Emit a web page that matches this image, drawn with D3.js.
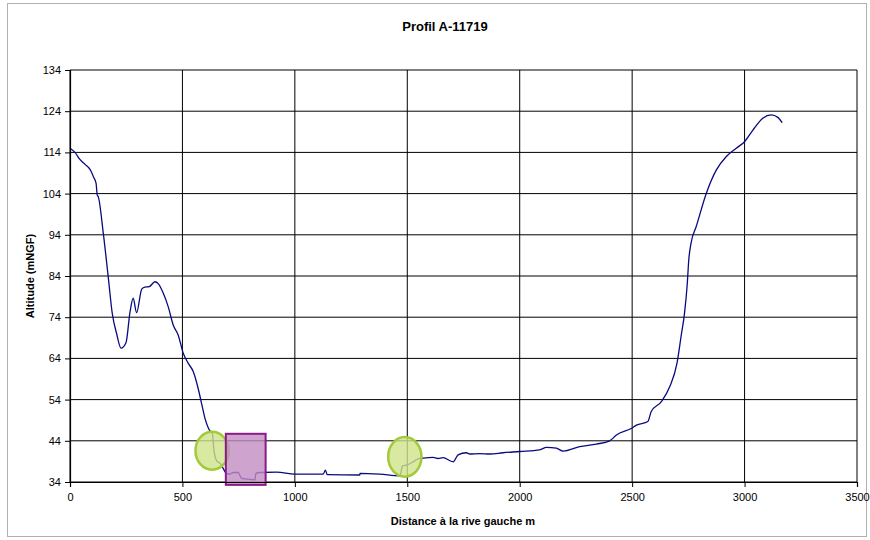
<!DOCTYPE html>
<html>
<head>
<meta charset="utf-8">
<script src="https://cdn.jsdelivr.net/npm/d3@7"></script>
<style>
  body { margin: 0; background: #fff; }
  svg text { font-family: "Liberation Sans", Arial, sans-serif; fill: #000; }
</style>
</head>
<body>
<div id="chart"></div>
<script>
var WIDTH = 870
var HEIGHT = 540

// profile: distance from left bank (m) / altitude (mNGF)
var distance = [0, 22, 44, 67, 92, 104, 116, 121, 126, 148, 170, 188, 207, 227, 249, 267, 281, 296,
    319, 333, 352, 378, 393, 415, 437, 459, 481, 504, 526, 548, 570, 585, 600, 625, 633, 640, 652,
    670, 681, 696, 711, 726, 748, 763, 785, 822, 827, 844, 919, 1000, 1126, 1136, 1144, 1289, 1290,
    1378, 1467, 1474, 1479, 1496, 1526, 1548, 1570, 1615, 1637, 1659, 1704, 1726, 1763, 1778, 1822,
    1867, 1926, 2000, 2089, 2119, 2163, 2193, 2267, 2341, 2400, 2430, 2496, 2519, 2570, 2585, 2630,
    2667, 2700, 2718, 2733, 2745, 2752, 2762, 2785, 2830, 2874, 2919, 2963, 3000, 3037, 3081, 3119, 3148, 3167];
var altitude = [115.0, 114.0, 112.3, 111.1, 109.6, 108.1, 106.5, 103.7, 103.2, 94.4, 83.8, 74.9, 70.1,
    66.5, 67.8, 75.3, 78.6, 75.1, 80.8, 81.3, 81.4, 82.6, 82.1, 79.8, 76.5, 72.1, 69.7, 65.2, 62.8,
    60.8, 56.7, 53.1, 49.5, 46.2, 45.8, 41.8, 39.2, 38.4, 37.3, 36.1, 35.9, 36.3, 36.3, 34.9, 34.7,
    34.5, 36.1, 36.3, 36.4, 35.9, 35.9, 36.9, 35.8, 35.7, 36.1, 35.9, 35.5, 36.9, 37.9, 38.1, 38.9,
    39.6, 39.8, 40.0, 39.7, 39.9, 38.9, 40.6, 41.1, 40.8, 40.9, 40.8, 41.1, 41.4, 41.8, 42.4, 42.2,
    41.5, 42.6, 43.2, 44.0, 45.4, 47.0, 47.8, 48.7, 51.1, 53.5, 57.1, 63.0, 69.5, 75.0, 82.0, 88.0,
    92.0, 96.0, 104.1, 109.7, 113.0, 115.0, 116.6, 119.4, 122.3, 123.1, 122.5, 121.2];

var xTicks = [0, 500, 1000, 1500, 2000, 2500, 3000, 3500];
var yTicks = [34, 44, 54, 64, 74, 84, 94, 104, 114, 124, 134];

// highlighted zones (data units)
var ellipseCx = [632, 1489];
var ellipseCy = [41.6, 40.1];
var ellipseRx = [74, 74];
var ellipseRy = [4.6, 4.8];
var zoneX = [693, 870];
var zoneY = [45.7, 33.3];

var margin = { left: 70, right: 13, top: 70, bottom: 58 };

var svg = d3.select('#chart').append('svg')
    .attr('width', WIDTH)
    .attr('height', HEIGHT);

// outer frame
svg.append('rect')
    .attr('x', 7.5).attr('y', 3.5)
    .attr('width', 859).attr('height', 533)
    .attr('fill', 'none')
    .attr('stroke', '#b0b0b0')
    .attr('stroke-width', 1);

var x = d3.scaleLinear().domain([0, 3500]).range([margin.left, WIDTH - margin.right]);
var y = d3.scaleLinear().domain([34, 134]).range([HEIGHT - margin.bottom, margin.top]);

var g = svg.append('g');

// grid
g.selectAll('line.hgrid')
    .data(yTicks)
    .enter()
    .append('line')
    .attr('class', 'hgrid')
    .attr('x1', x(0)).attr('x2', x(3500))
    .attr('y1', d => y(d)).attr('y2', d => y(d))
    .attr('stroke', '#000')
    .attr('stroke-width', 1);

g.selectAll('line.vgrid')
    .data(xTicks)
    .enter()
    .append('line')
    .attr('class', 'vgrid')
    .attr('x1', d => x(d)).attr('x2', d => x(d))
    .attr('y1', y(34)).attr('y2', y(134))
    .attr('stroke', '#000')
    .attr('stroke-width', 1);

// profile line
var profile = distance.map((d, i) => [d, altitude[i]]);
var line = d3.line().x(d => x(d[0])).y(d => y(d[1])).curve(d3.curveMonotoneX);

g.append('path')
    .datum(profile)
    .attr('d', line)
    .attr('fill', 'none')
    .attr('stroke', '#0a0a80')
    .attr('stroke-width', 1.3)
    .attr('stroke-linejoin', 'round');

// highlighted zones, line shows faintly through
g.selectAll('ellipse')
    .data(ellipseCx)
    .enter()
    .append('ellipse')
    .attr('cx', d => x(d))
    .attr('cy', (d, i) => y(ellipseCy[i]))
    .attr('rx', (d, i) => x(ellipseRx[i]) - x(0))
    .attr('ry', (d, i) => y(0) - y(ellipseRy[i]))
    .attr('fill', '#cfe38a')
    .attr('fill-opacity', 0.8)
    .attr('stroke', '#a4c93a')
    .attr('stroke-width', 2.5);

g.append('rect')
    .attr('x', x(zoneX[0]))
    .attr('y', y(zoneY[0]))
    .attr('width', x(zoneX[1]) - x(zoneX[0]))
    .attr('height', y(zoneY[1]) - y(zoneY[0]))
    .attr('fill', '#c28cc2')
    .attr('fill-opacity', 0.8)
    .attr('stroke', '#8a1a8a')
    .attr('stroke-width', 2);

// axes
var xAxis = svg.append('g')
    .attr('transform', 'translate(0,' + y(34) + ')')
    .call(d3.axisBottom(x).tickValues(xTicks).tickSize(5).tickPadding(6).tickFormat(d3.format('d')));
var yAxis = svg.append('g')
    .attr('transform', 'translate(' + x(0) + ',0)')
    .call(d3.axisLeft(y).tickValues(yTicks).tickSize(5).tickPadding(4).tickFormat(d3.format('d')));

[xAxis, yAxis].forEach(a => {
    a.select('.domain').attr('stroke', '#000').attr('stroke-width', 1.2);
    a.selectAll('.tick line').attr('stroke', '#000');
    a.selectAll('.tick text').attr('font-size', 11).attr('font-family', '"Liberation Sans", Arial, sans-serif');
});

// titles
svg.append('text')
    .attr('x', 445).attr('y', 31)
    .attr('text-anchor', 'middle')
    .attr('font-size', 13)
    .attr('font-weight', 'bold')
    .text('Profil A-11719');

svg.append('text')
    .attr('x', 463).attr('y', 525)
    .attr('text-anchor', 'middle')
    .attr('font-size', 11)
    .attr('font-weight', 'bold')
    .text('Distance à la rive gauche m');

svg.append('text')
    .attr('transform', 'translate(34,276) rotate(-90)')
    .attr('text-anchor', 'middle')
    .attr('font-size', 11)
    .attr('font-weight', 'bold')
    .text('Altitude (mNGF)');
</script>
</body>
</html>
